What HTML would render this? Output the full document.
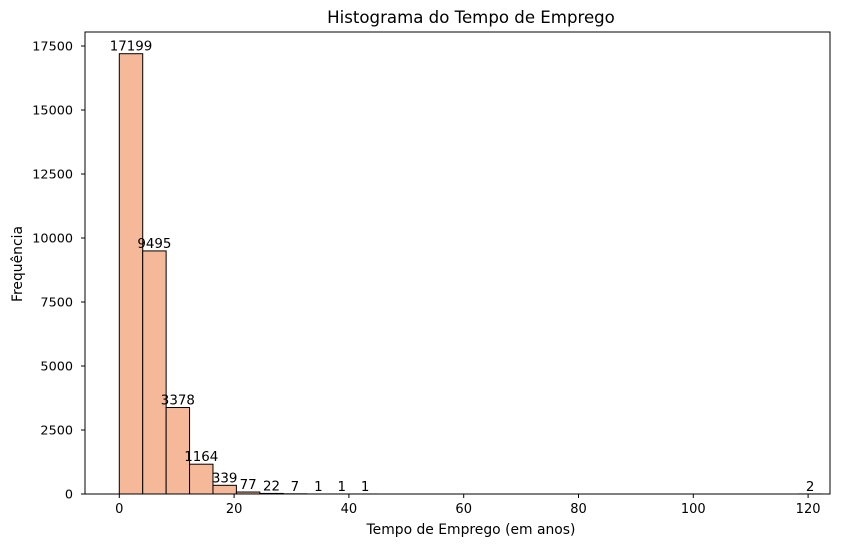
<!DOCTYPE html>
<html><head><meta charset="utf-8"><style>
body{margin:0;background:#fff}
svg text{font-family:"DejaVu Sans","Liberation Sans",sans-serif;fill:#000}
</style></head><body>
<svg id="chart" width="868" height="547" xmlns="http://www.w3.org/2000/svg">
<rect width="868" height="547" fill="#fff"/>
<text x="471" y="23" font-size="16.6" text-anchor="middle">Histograma do Tempo de Emprego</text>
<g id="bars"></g>
<g id="xticks"></g>
<g id="yticks"></g>
<rect x="85" y="32" width="745" height="462" fill="none" stroke="#000" stroke-width="1"/>
<text x="471" y="534" font-size="13.9" text-anchor="middle">Tempo de Emprego (em anos)</text>
<text x="22" y="264" font-size="13.9" text-anchor="middle" transform="rotate(-90 22 264)">Frequência</text>
</svg>
<script>
const counts=[17199,9495,3378,1164,339,77,22,7,1,1,1,0,0,0,0,0,0,0,0,0,0,0,0,0,0,0,0,0,0,2];
const binStart=0;
const binWidth=4.08;
const xTicks=[0,20,40,60,80,100,120];
const yTicks=[0,2500,5000,7500,10000,12500,15000,17500];
const NS="http://www.w3.org/2000/svg";
function sx(v){return 119.3+v*5.74;}
function sy(v){return 494-v*(448/17500);}
function mk(t,a){const e=document.createElementNS(NS,t);for(const k in a)e.setAttribute(k,a[k]);return e;}
const bars=document.getElementById('bars');
counts.forEach((c,i)=>{
  const x0=sx(binStart+i*binWidth),x1=sx(binStart+(i+1)*binWidth);
  if(c>0){
    const r=mk('rect',{x:x0,y:sy(c),width:x1-x0,height:494-sy(c),fill:'#f5b999',stroke:'#000','stroke-width':1});
    
    
    bars.appendChild(r);
    const t=mk('text',{x:(x0+x1)/2,y:sy(c)-3,'font-size':13.4,'text-anchor':'middle'});
    t.textContent=c;
    
    
    bars.appendChild(t);
  }
});
const xg=document.getElementById('xticks');
xTicks.forEach(v=>{
  const l=mk('line',{x1:sx(v),x2:sx(v),y1:494,y2:498,stroke:'#000'});
  
  
  xg.appendChild(l);
  const t=mk('text',{x:sx(v),y:513,'font-size':13,'text-anchor':'middle'});
  t.textContent=v;
  
  
  xg.appendChild(t);
});
const yg=document.getElementById('yticks');
yTicks.forEach(v=>{
  const l=mk('line',{x1:81,x2:85,y1:sy(v),y2:sy(v),stroke:'#000'});
  
  
  yg.appendChild(l);
  const t=mk('text',{x:73,y:sy(v)+4.5,'font-size':12.8,'text-anchor':'end'});
  t.textContent=v;
  
  
  yg.appendChild(t);
});
</script>
</body></html>
